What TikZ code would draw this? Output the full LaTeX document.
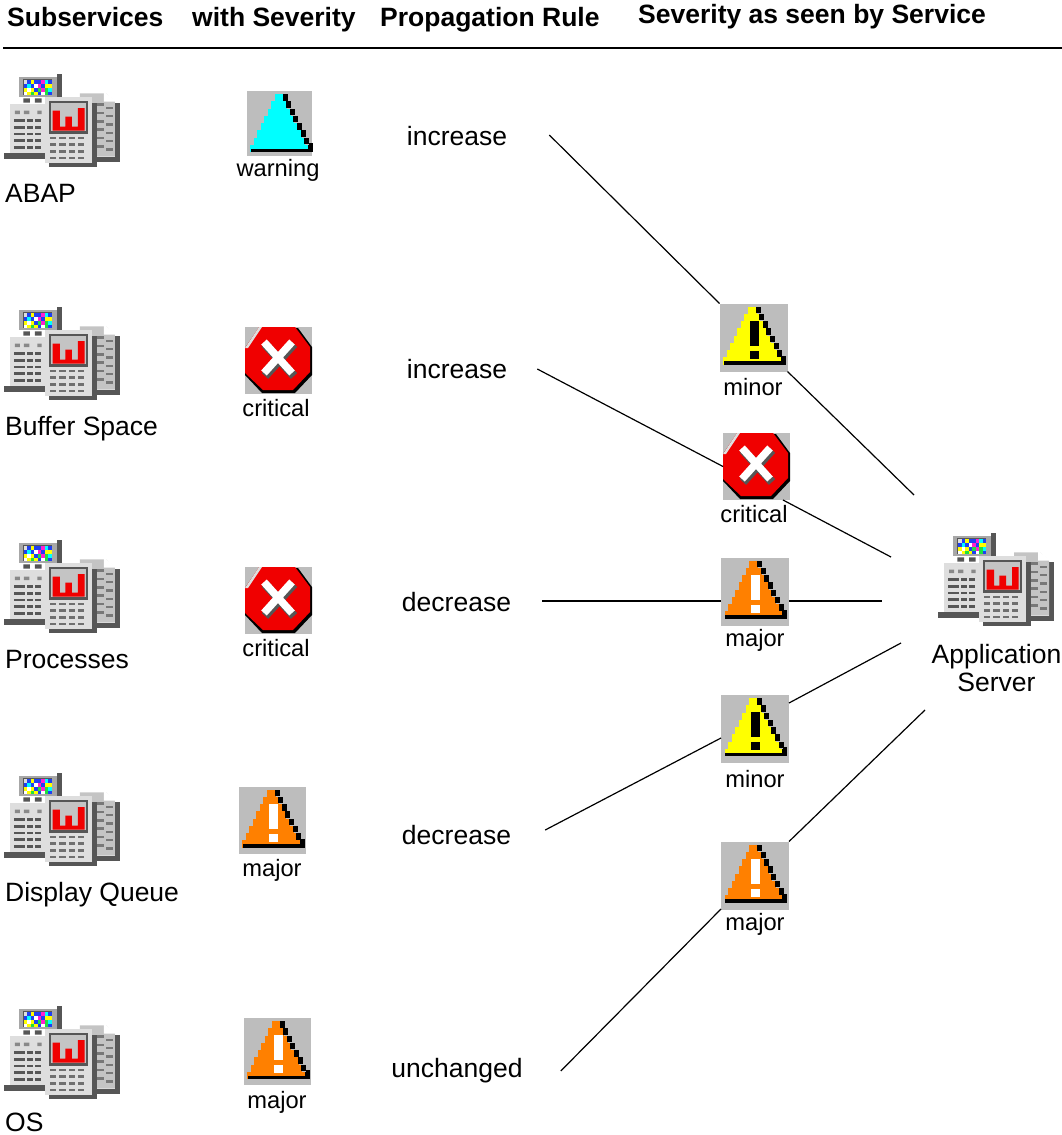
\documentclass[tikz,border=0pt]{standalone}
\usepackage{fontspec}
\setmainfont{Liberation Sans}
\definecolor{boxgray}{HTML}{BDBDBD}
\definecolor{srvlight}{HTML}{DEDEDE}
\definecolor{srvmid}{HTML}{C4C4C4}
\definecolor{srvdark}{HTML}{565656}
\definecolor{sevorange}{HTML}{FF8000}
\definecolor{sevred}{HTML}{F00000}
\definecolor{sevcyan}{HTML}{00FFFF}
\definecolor{sevyellow}{HTML}{FFFF00}
\definecolor{pixmag}{HTML}{FF20D0}
\definecolor{pixblue}{HTML}{2040F0}
\definecolor{pixgreen}{HTML}{20E040}
\tikzset{
	conn/.style={line width=1.2pt},
	head/.style={anchor=base west,inner sep=0pt,font=\fontsize{26.5}{28}\selectfont\bfseries},
	label/.style={anchor=base west,inner sep=0pt,font=\fontsize{26.5}{28}\selectfont},
	rule/.style={inner sep=0pt,text height=19pt,text depth=0pt,font=\fontsize{26.5}{28}\selectfont},
	small/.style={inner sep=0pt,text height=17pt,text depth=0pt,font=\fontsize{23.7}{26}\selectfont},
	sevbox/.style={fill=boxgray,inner sep=0pt,outer sep=0pt,minimum width=#1,minimum height=#1},
	% triangle sign: fill colour, mark colour
	pics/sevtri/.style 2 args={code={
		\foreach \i in {0,...,7}{
			\pgfmathsetmacro\xl{28-3.5*\i}
			\pgfmathsetmacro\xr{37+3.6*\i}
			\pgfmathsetmacro\yt{3+7.25*\i}
			\fill[#1] (\xl,\yt) rectangle (\xr,\yt+7.5);
			\fill[black] (\xr-1,\yt) rectangle (\xr+4,\yt+6.5);
		}
		\fill[black] (4,57.5) rectangle (66,61);
		\fill[black] (62,52) rectangle (66,61);
		\fill[#2] (30,17) rectangle (39,42);
		\fill[#2] (30,47) rectangle (39,55);
	}},
	% octagon sign
	pics/sevoct/.style={code={
		\fill[black] (14,1)--(53,1)--(67,20)--(67,48)--(50,66)--(17,66)--(0,48)--(0,21)--cycle;
		\fill[sevred] (14,0)--(50,0)--(65,20)--(65,45)--(48,63)--(18,63)--(0,46)--(0,21)--cycle;
		\fill[srvlight] (0,21)--(14,0)--(17,0)--(3,21)--cycle;
		\draw[srvdark,line width=8.5pt] (20,17)--(49,49) (49,17)--(20,49);
		\draw[white,line width=7.5pt] (19,15)--(47,46) (47,15)--(19,46);
	}},
	% server icon, drawn in units of a third of a pixel
	pics/srv/.style={code={
		% right sheet
		\fill[srvdark] (345,130) rectangle (360,305);
		\fill[srvdark] (276,290) rectangle (360,305);
		\fill[srvmid] (240,100) -- (318,100) -- (345,125) -- (345,290) -- (240,290) -- cycle;
		\fill[white] (312,95) -- (350,125) -- (312,125) -- cycle;
		\foreach \y in {130,155,180,205,230,255}{
			\fill[srvdark!80] (285,\y) rectangle (312,\y+8);
			\fill[srvdark!80] (318,\y+10) rectangle (338,\y+17);
		}
		% tower
		\fill[srvdark] (12,278) rectangle (150,296);
		\fill[srvlight] (30,132) rectangle (145,280);
		\foreach \y in {178,198,218,238,258}{
			\foreach \x in {42,58,80,104}{
				\fill[srvdark] (\x,\y) rectangle (\x+13+\x/15,\y+8);
			}
		}
		\fill[srvmid!70!black] (45,152) rectangle (60,162) (72,152) rectangle (88,162) (112,152) rectangle (125,162);
		% monitor
		\fill[srvdark] (170,42) rectangle (186,115);
		\fill[srvmid!85!black] (58,50) rectangle (172,112);
		\fill[srvdark] (70,115) rectangle (90,128) (105,115) rectangle (125,128);
		\fill[srvdark] (70,58) rectangle (156,106);
		\foreach \c [count=\i from 0] in {srvlight,pixblue,sevyellow,pixblue,pixblue,pixmag,sevcyan,pixblue,
			pixblue,sevcyan,pixblue,white,pixmag,pixblue,sevyellow,sevyellow,
			sevyellow,white,sevyellow,pixblue,pixgreen,pixmag,pixgreen,sevcyan,
			white,sevyellow,pixgreen,sevyellow,pixblue,white,pixgreen,pixblue}{
			\pgfmathtruncatemacro\col{mod(\i,8)}
			\pgfmathtruncatemacro\row{div(\i,8)}
			\fill[\c] (72+10.5*\col,60+11.5*\row) rectangle (82.5+10.5*\col,71.5+11.5*\row);
		}
		% front sheet
		\fill[srvdark] (148,130) rectangle (290,322);
		\fill[srvlight] (134,112) rectangle (276,310);
		\fill[srvdark] (146,122) rectangle (264,222);
		\fill[srvmid] (154,130) rectangle (258,214);
		\fill[sevred] (158,152) rectangle (180,210) (196,170) rectangle (216,210) (234,144) rectangle (254,210) (158,200) rectangle (254,212);
		\foreach \y in {230,250,270,290}{
			\foreach \x in {150,178,206,234}{
				\fill[srvdark!85] (\x,\y) rectangle (\x+19,\y+8);
			}
		}
	}}
}
\begin{document}
\begin{tikzpicture}[x=1pt,y=-1pt]
\useasboundingbox (0,0) rectangle (1062,1135);
% header
\node[head] (hsub) at (7,27) {Subservices};
\node[head] (hsev) at (192,27) {with Severity};
\node[head] (hrule) at (380,27) {Propagation Rule};
\node[head] (hseen) at (638,23.5) {Severity as seen by Service};
\coordinate (ruleleft) at (3,47.5);
\coordinate (ruleright) at (1062,47.5);
\draw[line width=2pt] (ruleleft)--(ruleright);

% subservices
\foreach \name/\txt/\yy/\yt in {abap/ABAP/0/202,buffer/Buffer Space/233/435,proc/Processes/466/668,queue/Display Queue/699/901,os/OS/932/1131}{
	\pic[scale=1/3] (\name) at (0,60+\yy) {srv};
	\node[label] (\name text) at (5,\yt) {\txt};
}
\pic[scale=1/3] (appsrv) at (934,519) {srv};
\node[small,text height=,text depth=,font=\fontsize{26.5}{28}\selectfont,align=center] (apptext) at (996.5,668) {Application\\[-0.5pt]Server};

% severity of the subservices
\node[sevbox=65pt] (sone) at (279,123.5) {};
\pic at (sone.north west) {sevtri={sevcyan}{sevcyan}};
\node[small] (sonetext) at (278,167.5) {warning};
\node[sevbox=67pt] (stwo) at (278.5,360.5) {};
\pic at (stwo.north west) {sevoct};
\node[small] (stwotext) at (276,408) {critical};
\node[sevbox=67pt] (sthree) at (278.5,600.5) {};
\pic at (sthree.north west) {sevoct};
\node[small] (sthreetext) at (276,648) {critical};
\node[sevbox=67pt] (sfour) at (272,820) {};
\pic at (sfour.north west) {sevtri={sevorange}{white}};
\node[small] (sfourtext) at (272,867.5) {major};
\node[sevbox=67pt] (sfive) at (277,1051.5) {};
\pic at (sfive.north west) {sevtri={sevorange}{white}};
\node[small] (sfivetext) at (277,1099.5) {major};

% propagation rules
\node[rule] (rone) at (457,136) {increase};
\node[rule] (rtwo) at (457,369) {increase};
\node[rule] (rthree) at (456.5,602) {decrease};
\node[rule] (rfour) at (456.5,835) {decrease};
\node[rule] (rfive) at (457,1068) {unchanged};

% severity as seen by the service
\node[sevbox=68pt] (tone) at (753.5,337.5) {};
\pic at (tone.north west) {sevtri={sevyellow}{black}};
\node[small] (tonetext) at (753,387) {minor};
\node[sevbox=67pt] (ttwo) at (756.5,466.5) {};
\pic at (ttwo.north west) {sevoct};
\node[small] (ttwotext) at (754,514) {critical};
\node[sevbox=68pt] (tthree) at (755,591.5) {};
\pic at (tthree.north west) {sevtri={sevorange}{white}};
\node[small] (tthreetext) at (755,637.5) {major};
\node[sevbox=68pt] (tfour) at (755,729) {};
\pic at (tfour.north west) {sevtri={sevyellow}{black}};
\node[small] (tfourtext) at (755,779) {minor};
\node[sevbox=68pt] (tfive) at (755,875.5) {};
\pic at (tfive.north west) {sevtri={sevorange}{white}};
\node[small] (tfivetext) at (755,921.5) {major};

% connectors
\coordinate (sa) at (914,495);
\coordinate (sb) at (891,557);
\coordinate (sc) at (882,601);
\coordinate (sd) at (901,643);
\coordinate (se) at (925,710);
\draw[conn] ([xshift=42pt,yshift=1pt]rone.east)--(tone.north west);
\draw[conn] (tone.south east)--(sa);
\draw[conn] ([xshift=30pt]rtwo.east)--(ttwo.west);
\draw[conn] ([xshift=-7pt]ttwo.south east)--(sb);
\draw[conn,line width=1.8pt] ([xshift=31pt,yshift=1pt]rthree.east)--([yshift=-9.5pt]tthree.west);
\draw[conn,line width=1.8pt] ([yshift=-9.5pt]tthree.east)--(sc);
\draw[conn] ([xshift=34pt,yshift=5pt]rfour.east)--([yshift=-9pt]tfour.west);
\draw[conn] ([yshift=26pt]tfour.east)--(sd);
\draw[conn] ([xshift=38pt,yshift=-3pt]rfive.east)--([yshift=-33.5pt]tfive.west);
\draw[conn] (tfive.north east)--(se);
\end{tikzpicture}
\end{document}
